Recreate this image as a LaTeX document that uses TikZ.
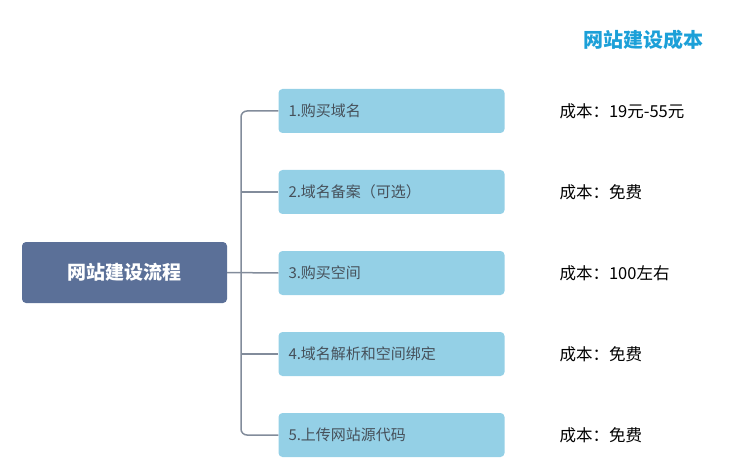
\documentclass[tikz,border=0pt]{standalone}
\usepackage{fontspec}
\setmainfont{Noto Sans CJK SC}
\usetikzlibrary{positioning}
\definecolor{RootBlue}{RGB}{91,112,152}
\definecolor{StepBlue}{RGB}{148,208,230}
\definecolor{StepText}{RGB}{70,80,90}
\definecolor{LineGray}{RGB}{130,140,155}
\definecolor{TitleBlue}{RGB}{28,160,216}

\tikzset{
  rootbox/.style={fill=RootBlue, rounded corners=4pt, minimum width=205pt, minimum height=61pt, text=white, font=\fontsize{19}{22}\selectfont\bfseries},
  stepbox/.style={fill=StepBlue, rounded corners=4pt, minimum width=226pt, minimum height=44pt, text=StepText, font=\fontsize{15}{18}\selectfont, text width=206pt, align=left},
  costtext/.style={anchor=west, font=\fontsize{16.5}{19}\selectfont, text=black},
  branch/.style={draw=LineGray, line width=1.5pt, rounded corners=6pt}
}

\begin{document}
\begin{tikzpicture}[x=1pt, y=-1pt]
\useasboundingbox (0,0) rectangle (753,476);

\node[rootbox] (root) at (124.5,272.5) {网站建设流程};

\node[stepbox] (s1) at (391.5,111) {1.购买域名};
\node[stepbox] (s2) at (391.5,192) {2.域名备案（可选）};
\node[stepbox] (s3) at (391.5,273) {3.购买空间};
\node[stepbox] (s4) at (391.5,354) {4.域名解析和空间绑定};
\node[stepbox] (s5) at (391.5,435) {5.上传网站源代码};

\coordinate (trunk) at (241,272.5);
\draw[branch] (root.east) -- (s3.west); % middle branch
\draw[branch] (s1.west) -| (trunk) |- (s5.west); % outer branches
\draw[branch] (trunk |- s2.west) -- (s2.west);
\draw[branch] (trunk |- s4.west) -- (s4.west);

\node[font=\fontsize{20}{24}\selectfont\bfseries, text=TitleBlue] (title) at (643,40) {网站建设成本};

\node[costtext] (c1) at (556,111) {成本：19元-55元};
\node[costtext] (c2) at (556,192) {成本：免费};
\node[costtext] (c3) at (556,273) {成本：100左右};
\node[costtext] (c4) at (556,354) {成本：免费};
\node[costtext] (c5) at (556,435) {成本：免费};
\end{tikzpicture}
\end{document}
